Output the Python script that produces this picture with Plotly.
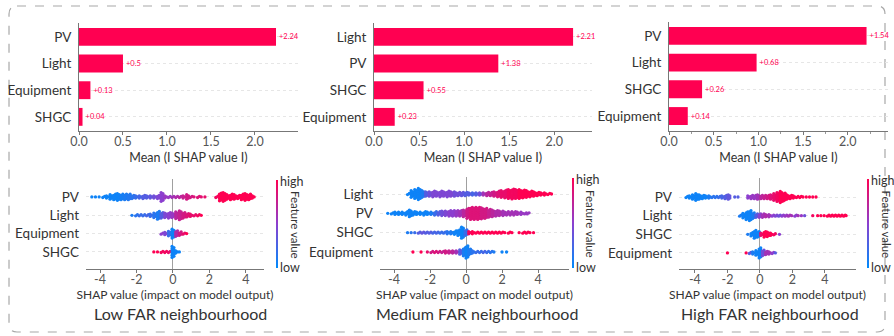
import plotly.graph_objects as go

W, H = 894, 336
def px(x): return x / W
def py(y): return 1 - y / H

BAR_RED = "#ff0051"
FONT = "Lato"
TXT = "#333333"
AX = "#777777"

# ---------------- Bar chart data (mean |SHAP|) ----------------
LOW_BAR_FEATURES = ["PV", "Light", "Equipment", "SHGC"]
LOW_BAR_VALUES = [2.24, 0.50, 0.13, 0.04]
LOW_BAR_LABELS = ["+2.24", "+0.5", "+0.13", "+0.04"]

MED_BAR_FEATURES = ["Light", "PV", "SHGC", "Equipment"]
MED_BAR_VALUES = [2.21, 1.38, 0.55, 0.23]
MED_BAR_LABELS = ["+2.21", "+1.38", "+0.55", "+0.23"]

HIGH_BAR_FEATURES = ["PV", "Light", "SHGC", "Equipment"]
HIGH_BAR_VALUES = [2.21, 0.98, 0.37, 0.21]   # drawn bar lengths
HIGH_BAR_LABELS = ["+1.54", "+0.68", "+0.26", "+0.14"]

X_TICKS_BAR = [0, 0.5, 1.0, 1.5, 2.0]
X_TICKTEXT_BAR = ["0.0", "0.5", "1.0", "1.5", "2.0"]
X_TICKS_SWARM = [-4, -2, 0, 2, 4]
X_TICKTEXT_SWARM = ["-4", "-2", "0", "2", "4"]

# ---------------- Beeswarm data: (SHAP bin, dots in bin, feature value 0..1) ----------------
LOW_SWARM_FEATURES = ["PV", "Light", "Equipment", "SHGC"]
LOW_PV = [(-4.4, 1, 0.05), (-4.2, 1, 0.05), (-4.0, 1, 0.05), (-3.8, 2, 0.05), (-3.6, 3, 0.05),
          (-3.4, 5, 0.05), (-3.2, 6, 0.05), (-3.0, 7, 0.05), (-2.8, 6, 0.08), (-2.6, 6, 0.1),
          (-2.4, 6, 0.12), (-2.2, 4, 0.15), (-2.0, 3, 0.2), (-1.8, 3, 0.25), (-1.6, 4, 0.3),
          (-1.4, 3, 0.3), (-1.2, 3, 0.35), (-1.0, 3, 0.4), (-0.8, 4, 0.45), (-0.6, 9, 0.5),
          (-0.4, 3, 0.55), (-0.2, 2, 0.55), (0.0, 2, 0.6), (0.2, 2, 0.65), (0.4, 2, 0.7),
          (0.6, 3, 0.75), (0.8, 5, 0.8), (1.0, 2, 0.8), (1.2, 1, 0.85), (1.4, 2, 0.85),
          (1.6, 1, 0.88), (1.8, 1, 0.9), (2.4, 2, 0.95), (2.6, 8, 1.0), (2.8, 9, 1.0),
          (3.0, 5, 1.0), (3.2, 6, 1.0), (3.4, 5, 1.0), (3.6, 4, 1.0), (3.8, 6, 1.0),
          (4.0, 7, 1.0), (4.2, 6, 1.0), (4.4, 3, 1.0)]
LOW_LIGHT = [(-2.2, 1, 0.1), (-2.0, 2, 0.15), (-1.8, 2, 0.2), (-1.6, 2, 0.2), (-1.4, 2, 0.25),
             (-1.2, 3, 0.2), (-1.0, 5, 0.15), (-0.8, 8, 0.1), (-0.6, 6, 0.3), (-0.4, 5, 0.45),
             (-0.2, 6, 0.5), (0.0, 5, 0.55), (0.2, 7, 0.7), (0.4, 9, 0.75), (0.6, 6, 0.8),
             (0.8, 4, 0.85), (1.0, 3, 0.9), (1.2, 2, 0.9), (1.4, 2, 0.95), (1.6, 1, 1.0)]
LOW_EQUIPMENT = [(-0.6, 2, 0.5), (-0.4, 3, 0.45), (-0.2, 5, 0.2), (0.0, 9, 0.05), (0.2, 6, 0.65),
                 (0.4, 4, 0.8), (0.6, 2, 0.9), (0.8, 1, 1.0)]
LOW_SHGC = [(-1.0, 1, 1.0), (-0.8, 1, 1.0), (-0.6, 2, 0.95), (-0.4, 2, 0.95), (-0.2, 2, 0.9),
            (0.0, 11, 0.05), (0.2, 3, 0.05), (0.4, 1, 0.05)]

MED_SWARM_FEATURES = ["Light", "PV", "SHGC", "Equipment"]
MED_LIGHT = [(-3.2, 2, 0.05), (-3.0, 7, 0.05), (-2.8, 9, 0.05), (-2.6, 11, 0.05), (-2.4, 7, 0.1),
             (-2.2, 5, 0.3), (-2.0, 5, 0.4), (-1.8, 6, 0.45), (-1.6, 5, 0.45), (-1.4, 6, 0.45),
             (-1.2, 5, 0.45), (-1.0, 6, 0.45), (-0.8, 5, 0.45), (-0.6, 5, 0.4), (-0.4, 4, 0.4),
             (-0.2, 4, 0.35), (0.0, 4, 0.3), (0.2, 3, 0.3), (0.4, 3, 0.25), (0.6, 3, 0.3),
             (0.8, 3, 0.4), (1.0, 3, 0.6), (1.2, 4, 0.7), (1.4, 4, 0.75), (1.6, 5, 0.8),
             (1.8, 6, 0.85), (2.0, 7, 0.9), (2.2, 8, 0.9), (2.4, 9, 0.95), (2.6, 10, 0.95),
             (2.8, 9, 0.95), (3.0, 9, 1.0), (3.2, 8, 1.0), (3.4, 7, 1.0), (3.6, 6, 1.0),
             (3.8, 5, 1.0), (4.0, 4, 1.0), (4.2, 3, 1.0), (4.4, 3, 1.0), (4.6, 2, 1.0), (4.8, 1, 1.0)]
MED_PV = [(-4.3, 1, 0.05), (-4.1, 2, 0.05), (-3.9, 3, 0.05), (-3.7, 3, 0.05), (-3.5, 3, 0.05),
          (-3.3, 4, 0.05), (-3.1, 7, 0.05), (-2.9, 4, 0.05), (-2.7, 3, 0.05), (-2.5, 3, 0.05),
          (-2.3, 4, 0.05), (-2.1, 3, 0.05), (-1.9, 3, 0.1), (-1.7, 4, 0.2), (-1.5, 4, 0.3),
          (-1.3, 5, 0.4), (-1.1, 5, 0.45), (-0.9, 6, 0.5), (-0.7, 6, 0.5), (-0.5, 6, 0.55),
          (-0.3, 6, 0.6), (-0.1, 7, 0.7), (0.1, 10, 0.8), (0.3, 12, 0.85), (0.5, 12, 0.85),
          (0.7, 12, 0.85), (0.9, 11, 0.8), (1.1, 10, 0.8), (1.3, 8, 0.75), (1.5, 7, 0.7),
          (1.7, 6, 0.65), (1.9, 5, 0.65), (2.1, 5, 0.6), (2.3, 4, 0.6), (2.5, 4, 0.6),
          (2.7, 4, 0.6), (2.9, 3, 0.6), (3.1, 3, 0.55), (3.3, 2, 0.55), (3.45, 2, 0.55)]
MED_SHGC = [(-3.2, 1, 0.1), (-3.0, 1, 0.15), (-2.8, 1, 0.2), (-2.6, 2, 0.3), (-2.4, 2, 0.35),
            (-2.2, 2, 0.3), (-2.0, 2, 0.3), (-1.8, 2, 0.25), (-1.6, 2, 0.25), (-1.4, 2, 0.2),
            (-1.2, 2, 0.2), (-1.0, 3, 0.15), (-0.8, 3, 0.1), (-0.6, 4, 0.05), (-0.4, 6, 0.05),
            (-0.2, 11, 0.05), (0.0, 6, 0.2), (0.2, 3, 0.95), (0.4, 3, 1.0), (0.6, 2, 1.0),
            (0.8, 2, 1.0), (1.0, 2, 1.0), (1.2, 2, 1.0), (1.4, 2, 1.0), (1.6, 2, 1.0),
            (1.8, 2, 1.0), (2.0, 2, 1.0), (2.2, 1, 1.0), (2.4, 2, 1.0), (2.6, 1, 1.0),
            (3.0, 1, 1.0), (3.2, 2, 1.0), (3.4, 2, 1.0), (3.6, 1, 1.0), (3.8, 1, 1.0)]
MED_EQUIPMENT = [(-2.9, 1, 1.0), (-2.45, 1, 1.0), (-2.1, 1, 0.9), (-1.9, 2, 0.8), (-1.7, 2, 0.85),
                 (-1.5, 2, 0.8), (-1.3, 2, 0.75), (-1.1, 3, 0.8), (-0.9, 3, 0.75), (-0.7, 3, 0.7),
                 (-0.5, 3, 0.6), (-0.3, 5, 0.3), (-0.1, 8, 0.1), (0.05, 12, 0.05), (0.2, 6, 0.1),
                 (0.4, 3, 0.15), (0.6, 2, 0.2), (0.8, 2, 0.2), (1.0, 2, 0.25), (1.2, 2, 0.2),
                 (1.4, 2, 0.15), (1.6, 1, 0.1), (2.05, 1, 0.05), (2.3, 1, 0.05)]

HIGH_SWARM_FEATURES = ["PV", "Light", "SHGC", "Equipment"]
HIGH_PV = [(-4.5, 2, 0.05), (-4.3, 3, 0.05), (-4.1, 5, 0.05), (-3.9, 7, 0.05), (-3.7, 5, 0.05),
           (-3.5, 4, 0.05), (-3.3, 3, 0.05), (-3.1, 3, 0.1), (-2.9, 2, 0.15), (-2.7, 2, 0.15),
           (-2.5, 2, 0.2), (-2.3, 3, 0.25), (-2.1, 4, 0.3), (-1.9, 5, 0.35), (-1.5, 1, 0.3),
           (-1.3, 1, 0.3), (-0.7, 3, 0.5), (-0.5, 4, 0.55), (-0.3, 4, 0.55), (-0.1, 5, 0.6),
           (0.1, 4, 0.7), (0.3, 4, 0.75), (0.5, 4, 0.8), (0.7, 5, 0.85), (0.9, 7, 0.9),
           (1.1, 9, 0.95), (1.3, 11, 1.0), (1.5, 8, 1.0), (1.7, 5, 1.0), (1.9, 4, 1.0),
           (2.1, 3, 1.0), (2.3, 2, 1.0), (2.5, 2, 1.0), (2.7, 1, 1.0), (2.9, 1, 1.0),
           (3.1, 1, 1.0), (3.3, 1, 1.0), (3.5, 1, 1.0)]
HIGH_LIGHT = [(-1.2, 2, 0.1), (-1.0, 5, 0.05), (-0.8, 8, 0.05), (-0.6, 10, 0.05), (-0.4, 6, 0.1),
              (-0.2, 4, 0.3), (0.0, 4, 0.5), (0.2, 4, 0.6), (0.4, 3, 0.65), (0.6, 3, 0.6),
              (0.8, 2, 0.5), (1.0, 2, 0.45), (1.2, 2, 0.4), (1.4, 2, 0.5), (1.6, 2, 0.55),
              (1.8, 2, 0.6), (2.0, 1, 0.6), (2.2, 2, 0.5), (2.4, 1, 0.6), (2.6, 1, 0.55),
              (2.8, 1, 0.4), (3.3, 1, 0.95), (3.6, 1, 1.0), (3.8, 1, 1.0), (4.0, 1, 1.0),
              (4.2, 2, 1.0), (4.4, 2, 1.0), (4.6, 2, 1.0), (4.8, 2, 1.0), (5.0, 2, 1.0),
              (5.2, 2, 1.0), (5.35, 1, 1.0)]
HIGH_SHGC = [(-0.7, 1, 0.1), (-0.5, 4, 0.05), (-0.3, 8, 0.05), (-0.1, 6, 0.05), (0.1, 3, 0.9),
             (0.3, 6, 1.0), (0.5, 5, 1.0), (0.7, 3, 1.0), (0.9, 2, 0.95), (1.25, 1, 0.5)]
HIGH_EQUIPMENT = [(-1.95, 1, 1.0), (-0.8, 1, 1.0), (-0.6, 2, 0.3), (-0.4, 3, 0.1), (-0.2, 5, 0.05),
                  (0.0, 10, 0.05), (0.2, 6, 0.4), (0.4, 4, 0.6), (0.6, 3, 0.6), (0.8, 2, 0.5),
                  (1.0, 1, 0.3)]

CAPTIONS = ["Low FAR neighbourhood", "Medium FAR neighbourhood", "High FAR neighbourhood"]

COLORSCALE = [[0.0, "#008bfb"], [0.5, "#8c3fcf"], [1.0, "#ff0052"]]

fig = go.Figure()

# ---------------- panel geometry (pixels) ----------------
bar_panels = [
    dict(feat=LOW_BAR_FEATURES, val=LOW_BAR_VALUES, lab=LOW_BAR_LABELS,
         x0=79, x1=298, xmax=2.49, y0=23, y1=131, yr=[-0.53, 3.52]),
    dict(feat=MED_BAR_FEATURES, val=MED_BAR_VALUES, lab=MED_BAR_LABELS,
         x0=374, x1=592, xmax=2.42, y0=23, y1=131, yr=[-0.53, 3.52]),
    dict(feat=HIGH_BAR_FEATURES, val=HIGH_BAR_VALUES, lab=HIGH_BAR_LABELS,
         x0=669, x1=888, xmax=2.45, y0=22, y1=131, yr=[-0.56, 3.52]),
]
swarm_panels = [
    dict(feat=LOW_SWARM_FEATURES, rows=[LOW_PV, LOW_LIGHT, LOW_EQUIPMENT, LOW_SHGC],
         x0=86, x1=264, xr=[-4.77, 4.99], y0=179, y1=269, yr=[-0.93, 3.98],
         cbx=277, cap=180),
    dict(feat=MED_SWARM_FEATURES, rows=[MED_LIGHT, MED_PV, MED_SHGC, MED_EQUIPMENT],
         x0=380, x1=569, xr=[-4.78, 5.72], y0=177, y1=269, yr=[-0.88, 3.88],
         cbx=573, cap=477),
    dict(feat=HIGH_SWARM_FEATURES, rows=[HIGH_PV, HIGH_LIGHT, HIGH_SHGC, HIGH_EQUIPMENT],
         x0=679, x1=856, xr=[-4.98, 5.91], y0=178, y1=269, yr=[-0.86, 4.02],
         cbx=868, cap=770),
]

layout = dict(
    width=W, height=H, margin=dict(l=0, r=0, t=0, b=0, autoexpand=False),
    paper_bgcolor="white", plot_bgcolor="white", showlegend=False,
    font=dict(family=FONT, color=TXT),
)
annotations = []
shapes = []

ax_i = 1
for i, p in enumerate(bar_panels):
    xa = "x" if ax_i == 1 else f"x{ax_i}"
    ya = "y" if ax_i == 1 else f"y{ax_i}"
    fig.add_trace(go.Bar(
        orientation="h", x=p["val"], y=[3, 2, 1, 0], width=0.67,
        marker=dict(color=BAR_RED, line=dict(width=0)),
        text=p["lab"], textposition="outside", cliponaxis=False,
        constraintext="none",
        textfont=dict(size=7.5, color=BAR_RED, family=FONT),
        xaxis=xa, yaxis=ya, hoverinfo="skip"))
    xdict = dict(
        domain=[px(p["x0"]), px(p["x1"])], anchor=ya, range=[0, p["xmax"]],
        tickvals=X_TICKS_BAR, ticktext=X_TICKTEXT_BAR, ticks="outside", ticklen=3,
        tickcolor=AX, showline=True, linecolor=AX, linewidth=1, showgrid=False,
        zeroline=False, tickfont=dict(size=12.5, color="#555555"), automargin=False,
        ticklabelstandoff=-4,
        title=dict(text="Mean (I SHAP value I)", font=dict(size=12.5, color=TXT), standoff=5),
    )
    if i == 2:
        xdict["minor"] = dict(dtick=0.25, ticks="outside", ticklen=2, tickcolor="#999999")
    layout["xaxis" if ax_i == 1 else f"xaxis{ax_i}"] = xdict
    layout["yaxis" if ax_i == 1 else f"yaxis{ax_i}"] = dict(
        domain=[py(p["y1"]), py(p["y0"])], anchor=xa, range=p["yr"],
        tickvals=[3, 2, 1, 0], ticktext=p["feat"], ticks="", showline=True,
        linecolor=AX, linewidth=1, showgrid=True, gridcolor="#e6e6e6", griddash="dot",
        zeroline=False, tickfont=dict(size=13.5, color=TXT), ticklabelstandoff=4,
        automargin=False,
    )
    ax_i += 1

for i, p in enumerate(swarm_panels):
    xa = f"x{ax_i}"
    ya = f"y{ax_i}"
    ppu = (p["y1"] - p["y0"]) / (p["yr"][1] - p["yr"][0])
    dy = 1.1 / ppu
    xs, ys, cs = [], [], []
    for r, bins in enumerate(p["rows"]):
        row = 3 - r
        for (x, n, c) in bins:
            for k in range(n):
                xs.append(x + (0.05 if k % 2 else -0.05))
                ys.append(row + (k - (n - 1) / 2) * dy)
                cs.append(c)
    cax = "coloraxis" if i == 0 else f"coloraxis{i + 1}"
    fig.add_trace(go.Scatter(
        x=xs, y=ys, mode="markers", xaxis=xa, yaxis=ya, hoverinfo="skip",
        marker=dict(size=3.3, color=cs, coloraxis=cax, line=dict(width=0)),
        cliponaxis=False))
    layout[cax] = dict(
        cmin=0, cmax=1, colorscale=COLORSCALE,
        colorbar=dict(x=px(p["cbx"]), xanchor="center", y=py((p["y0"] + p["y1"]) / 2),
                      yanchor="middle", lenmode="pixels", len=p["y1"] - p["y0"] - 2,
                      thickness=2, outlinewidth=0, showticklabels=False, ticks="",
                      xpad=0, ypad=0),
    )
    layout[f"xaxis{ax_i}"] = dict(
        domain=[px(p["x0"]), px(p["x1"])], anchor=ya, range=p["xr"],
        tickvals=X_TICKS_SWARM, ticktext=X_TICKTEXT_SWARM, ticks="outside", ticklen=3,
        tickcolor=AX, showline=True, linecolor=AX, linewidth=1, showgrid=False,
        zeroline=True, zerolinecolor="#a0a0a0", zerolinewidth=1, automargin=False,
        tickfont=dict(size=12.5, color="#555555"), ticklabelstandoff=-4,
        title=dict(text="SHAP value (impact on model output)", font=dict(size=12, color=TXT),
                   standoff=1),
    )
    layout[f"yaxis{ax_i}"] = dict(
        domain=[py(p["y1"]), py(p["y0"])], anchor=xa, range=p["yr"],
        tickvals=[3, 2, 1, 0], ticktext=p["feat"], ticks="", showline=False,
        showgrid=True, gridcolor="#e6e6e6", griddash="dot", zeroline=False,
        tickfont=dict(size=13.5, color=TXT), ticklabelstandoff=6, automargin=False,
    )
    annotations += [
        dict(text="high", x=px(p["cbx"] + 1), y=py(p["y0"] + 2), xref="paper", yref="paper",
             xanchor="left", yanchor="middle", showarrow=False, font=dict(size=12.5, color=TXT)),
        dict(text="low", x=px(p["cbx"] + 1), y=py(p["y1"] - 2), xref="paper", yref="paper",
             xanchor="left", yanchor="middle", showarrow=False, font=dict(size=12.5, color=TXT)),
        dict(text="Feature value", x=px(p["cbx"] + 18), y=py((p["y0"] + p["y1"]) / 2 + 1),
             xref="paper", yref="paper", xanchor="center", yanchor="middle", textangle=90,
             showarrow=False, font=dict(size=11.5, color=TXT)),
        dict(text=CAPTIONS[i], x=px(p["cap"]), y=py(313), xref="paper", yref="paper",
             xanchor="center", yanchor="middle", showarrow=False, font=dict(size=16, color=TXT)),
    ]
    ax_i += 1

# dashed rounded frame
fx0, fy0, fx1, fy1, r = 9, 6, 885, 332, 8
def P(x, y): return f"{px(x):.5f},{py(y):.5f}"
path = (f"M {P(fx0 + r, fy0)} L {P(fx1 - r, fy0)} Q {P(fx1, fy0)} {P(fx1, fy0 + r)} "
        f"L {P(fx1, fy1 - r)} Q {P(fx1, fy1)} {P(fx1 - r, fy1)} "
        f"L {P(fx0 + r, fy1)} Q {P(fx0, fy1)} {P(fx0, fy1 - r)} "
        f"L {P(fx0, fy0 + r)} Q {P(fx0, fy0)} {P(fx0 + r, fy0)} Z")
shapes.append(dict(type="path", path=path, xref="paper", yref="paper",
                   line=dict(color="#a8a8a8", width=1.2, dash="dash"), layer="below"))

layout["annotations"] = annotations
layout["shapes"] = shapes
fig.update_layout(**layout)
fig.write_html("out.html", config={"displayModeBar": False},
               post_script="document.body.style.margin='0';document.body.style.padding='0';"
                           "document.documentElement.style.overflow='hidden';")
